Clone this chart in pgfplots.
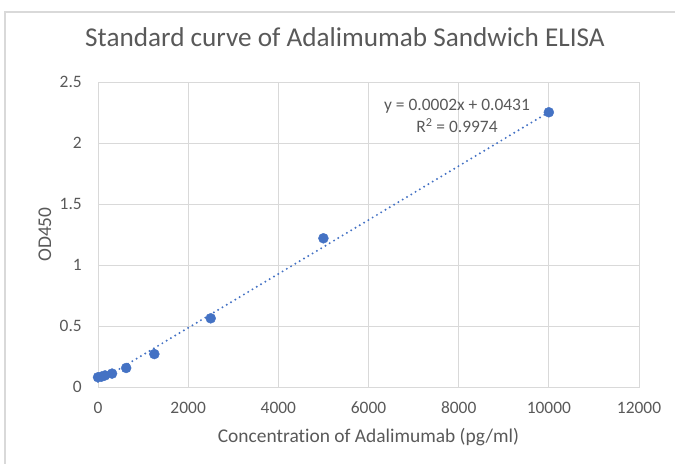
\documentclass[border=0pt]{standalone}
\usepackage{pgfplots}
\pgfplotsset{compat=1.18}
\usepackage{fontspec}
\setmainfont{Carlito}[Ligatures={NoCommon}]
\definecolor{txt}{HTML}{595959}
\definecolor{gridc}{HTML}{D9D9D9}
\definecolor{ptc}{HTML}{4472C4}
\begin{document}
\begin{tikzpicture}[x=1bp,y=1bp]
\useasboundingbox (0,0) rectangle (675,-464);
\draw[gridc, line width=1.3bp] (5,-464) -- (5,-12) -- (676,-12);
\begin{axis}[
  at={(98bp,-387bp)}, anchor=south west,
  width=541bp, height=305bp, scale only axis,
  xmin=0, xmax=12000, ymin=0, ymax=2.5,
  xtick={0,2000,...,12000}, ytick={0,0.5,...,2.5},
  scaled x ticks=false,
  /pgf/number format/assume math mode=true,
  /pgf/number format/1000 sep={},
  grid=major, major grid style={gridc, line width=0.9bp},
  axis line style={gridc, line width=0.9bp},
  major tick length=0,
  tick label style={font=\fontsize{17.5}{20}\selectfont, text=txt},
  xticklabel style={anchor=center, yshift=-21bp},
  yticklabel style={anchor=east, inner sep=0pt, xshift=-16bp},
  clip=false,
  title={Standard curve of Adalimumab Sandwich ELISA},
  title style={at={(axis description cs:0.4566,1.128)}, anchor=center, font=\fontsize{27.3}{30}\selectfont, text=txt},
  xlabel={Concentration of Adalimumab (pg/ml)},
  xlabel style={at={(axis description cs:0.5,-0.164)}, anchor=center, font=\fontsize{19.5}{22}\selectfont, text=txt},
  ylabel={OD450},
  ylabel style={at={(axis description cs:-0.098,0.5)}, anchor=center, rotate=0, font=\fontsize{19.5}{22}\selectfont, text=txt},
]
\addplot[ptc, line width=2.2bp, line cap=round, dash pattern=on 0pt off 5bp] coordinates {(0,0.0431) (10000,2.2531)};
\addplot[only marks, mark=*, mark size=5bp, mark options={fill=ptc, draw=ptc}] coordinates {
(0,0.080) (78,0.085) (156,0.095) (312,0.110) (625,0.156) (1250,0.270) (2500,0.563) (5000,1.219) (10000,2.252)};
\node[align=center, text=txt, font=\fontsize{17.5}{22}\selectfont] at (axis cs:7963,2.221) {y = 0.0002x + 0.0431\\R\textsuperscript{2} = 0.9974};
\end{axis}
\end{tikzpicture}
\end{document}
